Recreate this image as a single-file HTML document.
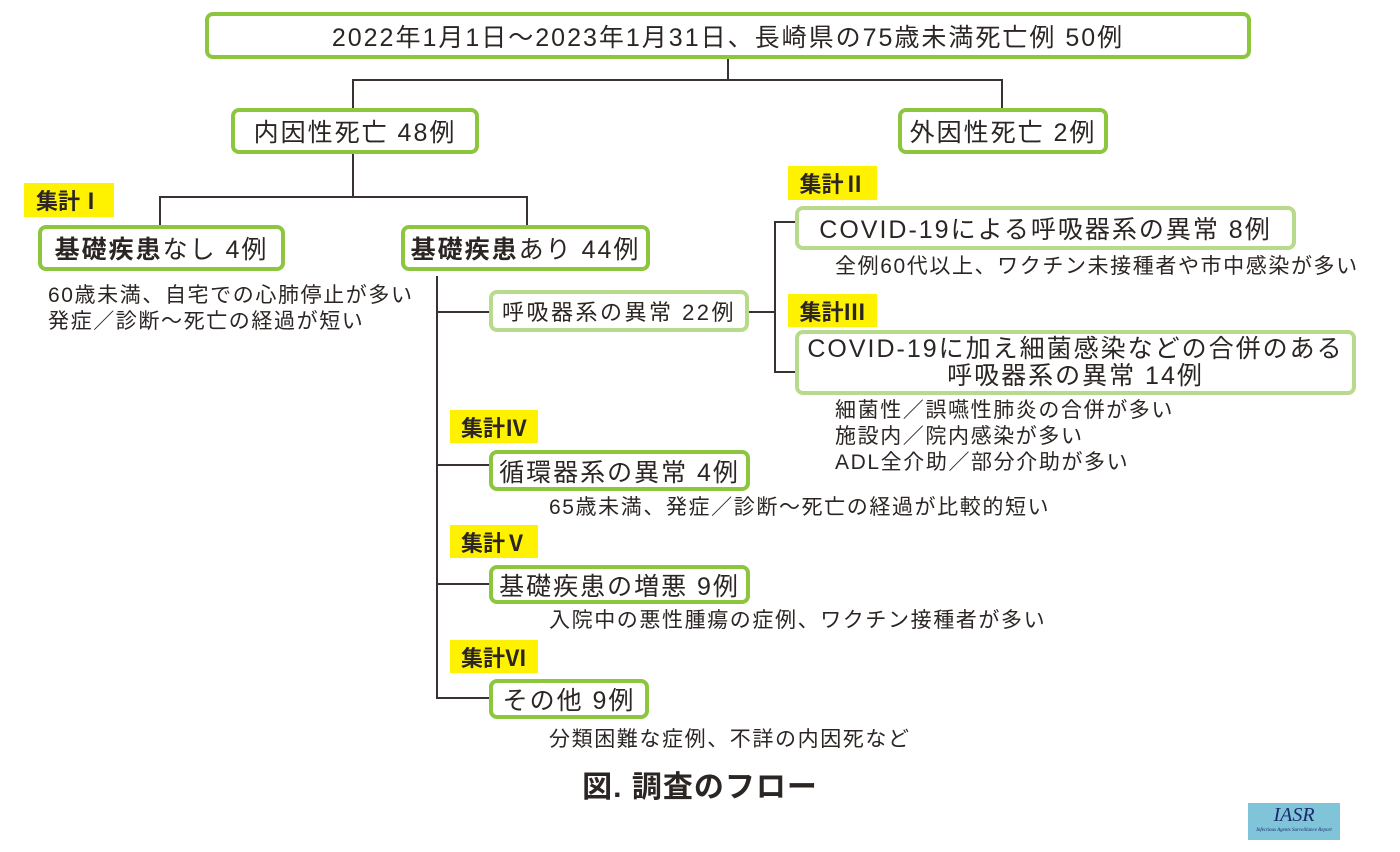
<!DOCTYPE html>
<html><head><meta charset="utf-8"><style>
body{margin:0;width:1400px;height:852px;background:#fff;position:relative;overflow:hidden;font-family:"Liberation Sans","Noto Sans CJK JP",sans-serif;color:#2b2523}
.b{position:absolute;box-sizing:border-box;border:4px solid #8cc63e;border-radius:8px;background:#fff;display:flex;align-items:center;justify-content:center;font-size:25px;letter-spacing:2px;white-space:nowrap;text-align:center}
.l{border-color:#b8da8c}
.y{position:absolute;background:#fff200;font-weight:bold;font-size:22px;display:flex;align-items:center;justify-content:center}
.t{position:absolute;font-size:21px;letter-spacing:1.6px;white-space:nowrap;line-height:26px}
.h,.v{position:absolute;background:#3a3230}
.h{height:2px}.v{width:2px}
</style></head><body>
<div class="b" style="left:205px;top:12px;width:1046px;height:47px">2022年1月1日～2023年1月31日、長崎県の75歳未満死亡例 50例</div>
<div class="v" style="left:727px;top:59px;height:22px"></div>
<div class="h" style="left:352px;top:79px;width:651px"></div>
<div class="v" style="left:352px;top:79px;height:30px"></div>
<div class="v" style="left:1001px;top:79px;height:30px"></div>
<div class="b" style="left:231px;top:108px;width:248px;height:46px">内因性死亡 48例</div>
<div class="b" style="left:898px;top:108px;width:210px;height:46px">外因性死亡 2例</div>
<div class="v" style="left:352px;top:154px;height:44px"></div>
<div class="h" style="left:159px;top:196px;width:369px"></div>
<div class="v" style="left:159px;top:196px;height:31px"></div>
<div class="v" style="left:526px;top:196px;height:31px"></div>
<div class="y" style="left:24px;top:183px;width:90px;height:34px">集計Ⅰ</div>
<div class="b" style="left:38px;top:225px;width:247px;height:46px"><b>基礎疾患</b>なし 4例</div>
<div class="b" style="left:401px;top:225px;width:249px;height:46px"><b>基礎疾患</b>あり 44例</div>
<div class="t" style="left:48px;top:283px">60歳未満、自宅での心肺停止が多い<br>発症／診断～死亡の経過が短い</div>
<div class="v" style="left:436px;top:276px;height:422px"></div>
<div class="h" style="left:436px;top:311px;width:54px"></div>
<div class="h" style="left:436px;top:464px;width:54px"></div>
<div class="h" style="left:436px;top:583px;width:54px"></div>
<div class="h" style="left:436px;top:697px;width:54px"></div>
<div class="b l" style="left:489px;top:290px;width:260px;height:42px;font-size:22px;letter-spacing:2.5px">呼吸器系の異常 22例</div>
<div class="h" style="left:749px;top:311px;width:26px"></div>
<div class="v" style="left:774px;top:221px;height:152px"></div>
<div class="h" style="left:774px;top:221px;width:22px"></div>
<div class="h" style="left:774px;top:371px;width:22px"></div>
<div class="y" style="left:788px;top:166px;width:89px;height:34px">集計Ⅱ</div>
<div class="b l" style="left:795px;top:206px;width:501px;height:44px">COVID-19による呼吸器系の異常 8例</div>
<div class="t" style="left:835px;top:254px">全例60代以上、ワクチン未接種者や市中感染が多い</div>
<div class="y" style="left:788px;top:294px;width:89px;height:33px">集計Ⅲ</div>
<div class="b l" style="left:795px;top:330px;width:561px;height:65px;line-height:27px"><div>COVID-19に加え細菌感染などの合併のある<br>呼吸器系の異常 14例</div></div>
<div class="t" style="left:835px;top:398px">細菌性／誤嚥性肺炎の合併が多い<br>施設内／院内感染が多い<br>ADL全介助／部分介助が多い</div>
<div class="y" style="left:450px;top:410px;width:88px;height:33px">集計Ⅳ</div>
<div class="b" style="left:489px;top:450px;width:261px;height:41px">循環器系の異常 4例</div>
<div class="t" style="left:549px;top:495px">65歳未満、発症／診断～死亡の経過が比較的短い</div>
<div class="y" style="left:450px;top:525px;width:88px;height:33px">集計Ⅴ</div>
<div class="b" style="left:489px;top:565px;width:261px;height:39px">基礎疾患の増悪 9例</div>
<div class="t" style="left:549px;top:608px">入院中の悪性腫瘍の症例、ワクチン接種者が多い</div>
<div class="y" style="left:450px;top:640px;width:88px;height:33px">集計Ⅵ</div>
<div class="b" style="left:489px;top:679px;width:160px;height:40px">その他 9例</div>
<div class="t" style="left:549px;top:727px">分類困難な症例、不詳の内因死など</div>
<div style="position:absolute;left:0;width:1400px;top:762px;text-align:center;font-weight:bold;font-size:30px;letter-spacing:1px">図. 調査のフロー</div>
<div style="position:absolute;left:1248px;top:803px;width:92px;height:37px;background:#7fc4d8;text-align:center;color:#1d2a6b;font-family:'Liberation Serif',serif;font-style:italic;font-size:20px;line-height:24px">IASR<div style="font-size:5px;line-height:8px">Infectious Agents Surveillance Report</div></div>
</body></html>
